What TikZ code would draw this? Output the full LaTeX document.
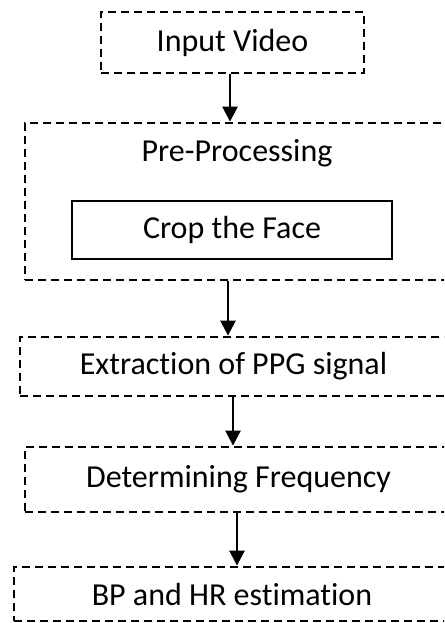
\documentclass[tikz,border=0pt]{standalone}
\usepackage{fontspec}
\setmainfont[Ligatures=NoCommon]{Carlito}
\usetikzlibrary{arrows.meta}
\begin{document}
\begin{tikzpicture}[x=1pt, y=-1pt,
        every node/.style={font=\fontsize{32}{38}\selectfont, inner sep=0pt},
        dbox/.style={draw, line width=2.8pt, dash pattern=on 8pt off 5pt},
        sbox/.style={draw, line width=2.8pt},
        arr/.style={line width=2.6pt, -{Triangle[length=15pt, width=15pt]}}]
        \useasboundingbox (0,0) rectangle (444,623);
        \clip (0,0) rectangle (444,623);
        % boxes, right ends run past the page
        \node [dbox, minimum width=263pt, minimum height=61pt] (input) at (232.5,42.5) {Input Video};
        \node [dbox, minimum width=435pt, minimum height=157pt] (pre) at (242.5,201.5) {};
        \node (pretitle) at (237,153) {Pre-Processing};
        \node [sbox, minimum width=320pt, minimum height=58pt] (crop) at (232,230) {Crop the Face};
        \node [dbox, minimum width=427pt, minimum height=59pt] (ppg) at (233.5,366.5) {Extraction of PPG signal};
        \node [dbox, minimum width=427pt, minimum height=65pt] (freq) at (238.5,479.5) {Determining Frequency};
        \node [dbox, minimum width=436pt, minimum height=54pt] (est) at (232,594) {BP and HR estimation};
        % flow
        \draw [arr] ([xshift=-2.5pt]input.south) -- ([xshift=-2.5pt]input.south |- pre.north);
        \draw [arr] ([xshift=-4pt]crop.south |- pre.south) -- ([xshift=-4pt]crop.south |- ppg.north);
        \draw [arr] ([xshift=1pt]crop.south |- ppg.south) -- ([xshift=1pt]crop.south |- freq.north);
        \draw [arr] ([xshift=5pt]crop.south |- freq.south) -- ([xshift=5pt]crop.south |- est.north);
    \end{tikzpicture}
\end{document}
